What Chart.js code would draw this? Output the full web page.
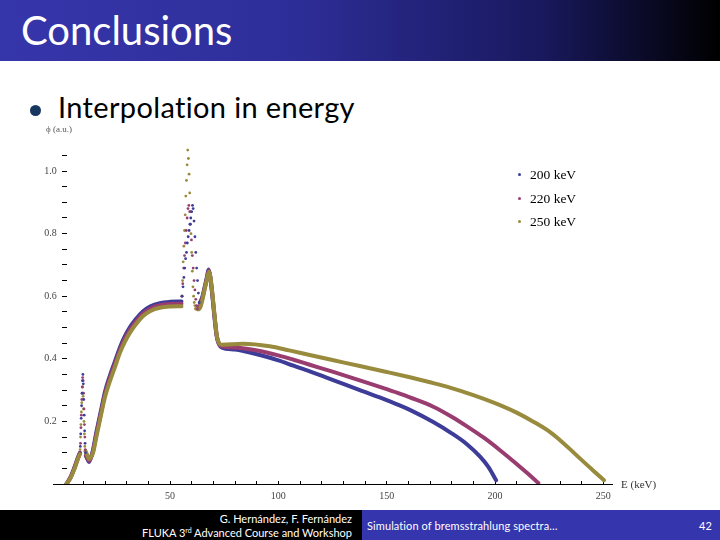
<!DOCTYPE html>
<html><head><meta charset="utf-8">
<script src="https://cdn.jsdelivr.net/npm/chart.js@4/dist/chart.umd.min.js"></script>
<style>
html,body{margin:0;padding:0;width:720px;height:540px;overflow:hidden;background:#fff;}
#title{position:absolute;left:0;top:0;width:720px;height:61px;background:linear-gradient(to right,#3636ab 0%,#2e2e9a 40%,#19195f 75%,#000 100%);}
#title span{position:absolute;left:21px;top:10px;font-family:Lato,sans-serif;font-size:40px;line-height:40px;color:#fff;}
#bullet{position:absolute;left:30px;top:105px;width:11px;height:11px;border-radius:50%;background:#17375e;}
#sub{position:absolute;left:58px;top:92px;font-family:Lato,sans-serif;font-size:29px;line-height:29px;letter-spacing:0.35px;color:#000;white-space:nowrap;}
#c{position:absolute;left:0;top:0;}
.lg{position:absolute;left:530px;font-family:'Liberation Serif',serif;font-size:13.5px;line-height:13px;color:#000;}
.dot{position:absolute;left:-12px;top:5px;width:3px;height:3px;border-radius:50%;}
#ylab{position:absolute;left:46px;top:125px;font-family:'Liberation Serif',serif;font-size:9px;line-height:9px;color:#555;}
#xlab{position:absolute;left:621px;top:479px;font-family:'Liberation Serif',serif;font-size:11px;line-height:11px;color:#333;}
#fl{position:absolute;left:0;top:510px;width:362px;height:30px;background:#000;}
#fr{position:absolute;left:362px;top:510px;width:358px;height:30px;background:#3535ad;}
.ft{position:absolute;font-family:Lato,sans-serif;font-size:11px;line-height:11px;color:#fff;white-space:nowrap;}
sup{font-size:7px;line-height:0;vertical-align:4px;}
</style></head>
<body>
<div id="title"><span>Conclusions</span></div>
<div id="bullet"></div>
<div id="sub">Interpolation in energy</div>
<canvas id="c" width="720" height="540"></canvas>
<div id="ylab">ϕ (a.u.)</div>
<div id="xlab">E (keV)</div>
<div class="lg" style="top:168px"><span class="dot" style="background:#3d3d99"></span>200 keV</div>
<div class="lg" style="top:192px"><span class="dot" style="background:#993d71"></span>220 keV</div>
<div class="lg" style="top:215px"><span class="dot" style="background:#998b3d"></span>250 keV</div>
<div id="fl"></div><div id="fr"></div>
<div class="ft" style="right:368px;top:513px;">G. Hernández, F. Fernández</div>
<div class="ft" style="right:368px;top:527px;">FLUKA 3<sup>rd</sup> Advanced Course and Workshop</div>
<div class="ft" style="left:367px;top:520px;letter-spacing:0.1px;">Simulation of bremsstrahlung spectra…</div>
<div class="ft" style="left:699px;top:520px;">42</div>
<script>
// ---- data (E in keV, phi in a.u.) ----
const seriesNames = ['200 keV', '220 keV', '250 keV'];

const blueCurveX = [2.2, 4, 6, 7.5, 8.4, 9.5, 11.2, 12, 12.6, 13.5, 14.5, 16, 18.3, 20, 22.2, 24.5, 26.8, 29, 31.4, 34, 37.6, 41, 45.3, 50, 55.3, 60, 63.8, 65, 66, 67, 67.8, 68.5, 69.5, 70.5, 71.5, 72.5, 74, 80, 91.5, 100, 107, 114.5, 125, 137.6, 150, 156, 160.7, 171.5, 180, 186.9, 193, 197, 200.5];
const blueCurveY = [0, 0.02, 0.055, 0.085, 0.1, null, 0.09, 0.078, 0.07, 0.085, 0.11, 0.165, 0.24, 0.295, 0.345, 0.39, 0.435, 0.47, 0.5, 0.525, 0.552, 0.568, 0.578, 0.582, 0.583, null, 0.578, 0.6, 0.63, 0.66, 0.685, 0.665, 0.605, 0.535, 0.475, 0.448, 0.436, 0.43, 0.412, 0.395, 0.378, 0.36, 0.333, 0.3, 0.268, 0.251, 0.237, 0.198, 0.162, 0.128, 0.088, 0.054, 0.012];

const purpleCurveX = [2.2, 4, 6, 7.5, 8.4, 9.5, 11.2, 12, 12.6, 13.5, 14.5, 16, 18.3, 20, 22.2, 24.5, 26.8, 29, 31.4, 34, 37.6, 41, 45.3, 50, 55.3, 59, 63, 64, 65, 66, 67, 67.9, 68.6, 69.6, 70.6, 71.6, 72.6, 74, 80, 91.5, 100, 107, 114.5, 125, 137.6, 150, 156, 160.7, 171.5, 180, 186.9, 195, 202.3, 210, 215, 220];
const purpleCurveY = [0, 0.02, 0.053, 0.082, 0.098, null, 0.092, 0.08, 0.074, 0.083, 0.105, 0.158, 0.232, 0.287, 0.337, 0.382, 0.427, 0.462, 0.492, 0.517, 0.545, 0.561, 0.571, 0.575, 0.576, null, 0.565, 0.572, 0.595, 0.625, 0.655, 0.682, 0.662, 0.602, 0.532, 0.472, 0.448, 0.44, 0.436, 0.425, 0.411, 0.397, 0.381, 0.359, 0.331, 0.303, 0.289, 0.277, 0.247, 0.215, 0.185, 0.147, 0.108, 0.064, 0.034, 0.003];

const oliveCurveX = [2.2, 4, 6, 7.5, 8.4, 9.5, 11, 11.8, 12.6, 13.5, 14.5, 16, 18.3, 20, 22.2, 24.5, 26.8, 29, 31.4, 34, 37.6, 41, 45.3, 50, 55.3, 59, 62.2, 63, 64, 65, 66, 67, 68, 68.7, 69.7, 70.7, 71.7, 72.7, 74, 83.7, 96, 105, 114.5, 125, 137.6, 150, 160.7, 170, 179.2, 190, 202.3, 210, 217.7, 225, 230, 235, 239.3, 245, 250.3];
const oliveCurveY = [0, 0.018, 0.05, 0.08, 0.095, null, 0.105, 0.092, 0.08, 0.085, 0.1, 0.15, 0.225, 0.278, 0.327, 0.372, 0.418, 0.452, 0.482, 0.508, 0.537, 0.553, 0.563, 0.567, 0.568, null, 0.56, 0.558, 0.565, 0.59, 0.622, 0.652, 0.678, 0.66, 0.6, 0.53, 0.47, 0.45, 0.445, 0.448, 0.44, 0.427, 0.412, 0.396, 0.377, 0.358, 0.341, 0.325, 0.308, 0.284, 0.252, 0.228, 0.199, 0.168, 0.14, 0.109, 0.081, 0.045, 0.012];

// scattered points of the two characteristic peaks
const blueDotsX = [8.6, 8.8, 9.0, 9.2, 9.4, 9.6, 9.8, 10.0, 10.2, 10.4, 10.6, 10.8, 11.0, 55.6, 56, 56.4, 56.8, 57.2, 57.6, 58, 58.4, 58.8, 59.2, 59.6, 60, 60.4, 60.7, 61.1, 61.5, 61.9, 62.3, 62.7, 63.1, 63.5];
const blueDotsY = [0.12, 0.16, 0.21, 0.25, 0.29, 0.33, 0.35, 0.32, 0.27, 0.22, 0.17, 0.13, 0.1, 0.6, 0.63, 0.66, 0.69, 0.72, 0.74, 0.77, 0.79, 0.81, 0.83, 0.85, 0.87, 0.89, 0.88, 0.84, 0.79, 0.74, 0.69, 0.65, 0.61, 0.58];
const purpleDotsX = [8.7, 8.9, 9.1, 9.3, 9.5, 9.7, 9.9, 10.1, 10.3, 10.5, 10.7, 10.9, 55.5, 55.9, 56.3, 56.7, 57.1, 57.5, 57.9, 58.3, 58.7, 59.1, 59.5, 59.9, 60.3, 60.7, 61.1, 61.5, 61.9, 62.3, 62.7];
const purpleDotsY = [0.13, 0.18, 0.22, 0.27, 0.31, 0.34, 0.33, 0.29, 0.24, 0.19, 0.15, 0.11, 0.6, 0.64, 0.69, 0.73, 0.77, 0.81, 0.85, 0.88, 0.89, 0.87, 0.83, 0.78, 0.73, 0.69, 0.65, 0.62, 0.59, 0.57, 0.56];
const oliveDotsX = [8.5, 8.7, 8.9, 9.1, 9.3, 9.5, 9.7, 9.9, 10.1, 10.3, 10.5, 10.7, 55.5, 55.8, 56.1, 56.4, 56.7, 57, 57.3, 57.6, 57.9, 58.2, 58.5, 58.8, 59.1, 59.4, 59.7, 60, 60.3, 60.6, 60.9, 61.2, 61.5, 61.8];
const oliveDotsY = [0.11, 0.15, 0.19, 0.23, 0.26, 0.29, 0.31, 0.28, 0.24, 0.2, 0.16, 0.12, 0.6, 0.65, 0.71, 0.76, 0.81, 0.86, 0.92, 0.97, 1.02, 1.067, 1.04, 0.99, 0.93, 0.87, 0.8, 0.74, 0.68, 0.63, 0.6, 0.58, 0.57, 0.56];

const xMajorLabels = [50, 100, 150, 200, 250];
const yMajorLabels = [0.2, 0.4, 0.6, 0.8, 1.0];

// ---- build chart ----
const COLORS = ['#3d3d99', '#993d71', '#998b3d'];
const pts = (xs, ys) => xs.map((x, i) => ({x: x, y: ys[i]}));
const curves = [[blueCurveX, blueCurveY], [purpleCurveX, purpleCurveY], [oliveCurveX, oliveCurveY]];
const dots = [[blueDotsX, blueDotsY], [purpleDotsX, purpleDotsY], [oliveDotsX, oliveDotsY]];
const datasets = [];
curves.forEach((c, i) => datasets.push({
  label: seriesNames[i], data: pts(c[0], c[1]), showLine: true, spanGaps: false,
  cubicInterpolationMode: 'monotone',
  borderColor: COLORS[i], borderWidth: 4, pointRadius: 0, borderJoinStyle: 'round', borderCapStyle: 'round',
  order: 4 - i
}));
dots.forEach((d, i) => datasets.push({
  label: seriesNames[i] + ' peaks', data: pts(d[0], d[1]), showLine: false,
  pointRadius: 1.4, pointBorderWidth: 0, backgroundColor: COLORS[i], borderColor: COLORS[i],
  order: 0
}));

const isMajor = (v, list) => list.some(m => Math.abs(m - v) < 1e-6);
new Chart(document.getElementById('c'), {
  type: 'scatter',
  data: {datasets},
  options: {
    responsive: false, animation: false, devicePixelRatio: 1,
    layout: {padding: {left: 53, right: 108, top: 146, bottom: 56}},
    plugins: {legend: {display: false}, tooltip: {enabled: false}},
    scales: {
      x: {
        type: 'linear', position: {y: 0}, min: -4, max: 254,
        border: {display: true, color: '#000', width: 1},
        grid: {display: true, drawOnChartArea: false, drawTicks: true, tickLength: -4, color: 'transparent',
               tickColor: ctx => (ctx.tick && Math.abs(ctx.tick.value) > 1e-6) ? '#000' : 'transparent', tickWidth: 1},
        ticks: {stepSize: 10, autoSkip: false, includeBounds: false, maxRotation: 0, padding: 10, color: '#444',
                font: {family: 'Liberation Serif', size: 10},
                callback: v => isMajor(v, xMajorLabels) ? String(v) : ''}
      },
      y: {
        type: 'linear', position: {x: 0}, min: 0, max: 1.08,
        border: {display: false},
        grid: {display: true, drawOnChartArea: false, drawTicks: true, tickLength: -5, color: 'transparent',
               tickColor: ctx => (ctx.tick && ctx.tick.value > 1e-6) ? '#000' : 'transparent', tickWidth: 1},
        ticks: {stepSize: 0.05, autoSkip: false, includeBounds: false, padding: 2, color: '#444',
                font: {family: 'Liberation Serif', size: 10},
                callback: v => isMajor(v, yMajorLabels) ? v.toFixed(1) + '\u2002' : ''}
      }
    }
  }
});
</script>
</body></html>
